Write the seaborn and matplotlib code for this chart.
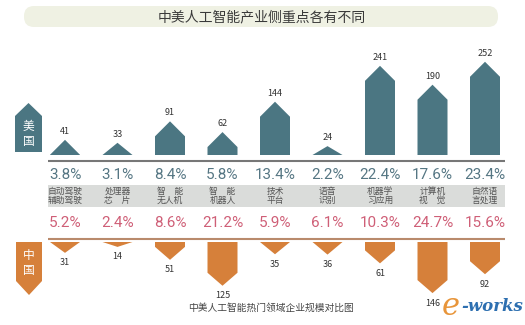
import matplotlib
matplotlib.use("Agg")
import matplotlib.pyplot as plt
import seaborn as sns
import pandas as pd
from matplotlib.patches import Polygon, Rectangle, FancyBboxPatch

# ---------------- data ----------------
categories = ["自动驾驶\n辅助驾驶", "处理器\n芯　片", "智　能\n无人机", "智　能\n机器人",
              "技术\n平台", "语音\n识别", "机器学\n习应用", "计算机\n视　觉", "自然语\n言处理"]
us_counts = [41, 33, 91, 62, 144, 24, 241, 190, 252]
cn_counts = [31, 14, 51, 125, 35, 36, 61, 146, 92]
us_pct = ["3.8%", "3.1%", "8.4%", "5.8%", "13.4%", "2.2%", "22.4%", "17.6%", "23.4%"]
cn_pct = ["5.2%", "2.4%", "8.6%", "21.2%", "5.9%", "6.1%", "10.3%", "24.7%", "15.6%"]
title = "中美人工智能产业侧重点各有不同"
caption = "中美人工智能热门领域企业规模对比图"

TEAL = "#4b7682"
ORANGE = "#d6803a"

sns.set_theme(style="white")
plt.rcParams["font.family"] = ["Noto Sans CJK SC", "DejaVu Sans"]

W, H = 525, 325
fig = plt.figure(figsize=(W / 100, H / 100), dpi=100)
fig.patch.set_facecolor("white")

# overlay axes in pixel units for decoration
ov = fig.add_axes([0, 0, 1, 1], zorder=0)
ov.set_xlim(0, W)
ov.set_ylim(H, 0)
ov.axis("off")

def px_axes(left, top, right, bottom, z=2):
    return fig.add_axes([left / W, 1 - bottom / H, (right - left) / W, (bottom - top) / H], zorder=z)

slot = 52.5
left_edge = 65 - slot / 2
right_edge = left_edge + slot * 9
bar_w = 30 / slot

df = pd.DataFrame({"cat": categories, "us": us_counts, "cn": cn_counts})

def houses(ax, col, color, px_per_unit, roof_px, down=False, label_off=3):
    sns.barplot(data=df, x="cat", y=col, ax=ax, color=color, width=bar_w,
                saturation=1, errorbar=None)
    roof = roof_px / px_per_unit
    patches = list(ax.patches)
    for p, v in zip(patches, df[col]):
        x0, w, h = p.get_x(), p.get_width(), p.get_height()
        xc = x0 + w / 2
        r = min(roof, h)
        pts = [(x0, 0), (x0 + w, 0), (x0 + w, h - r), (xc, h), (x0, h - r)]
        p.remove()
        ax.add_patch(Polygon(pts, closed=True, facecolor=color, edgecolor="none"))
        if down:
            ax.annotate(str(v), (xc, h), xytext=(0, -label_off), textcoords="offset points",
                        ha="center", va="top", fontsize=6.5, color="#333333")
        else:
            ax.annotate(str(v), (xc, h), xytext=(0, label_off), textcoords="offset points",
                        ha="center", va="bottom", fontsize=6.5, color="#333333")
    ax.set_xlim(-0.5, 8.5)
    ax.axis("off")

# US axes
us_scale = 0.37
ax_us = px_axes(left_edge, 50, right_edge, 155)
ax_us.set_ylim(0, 105 / us_scale)
houses(ax_us, "us", TEAL, us_scale, 15)

# China axes
cn_scale = 0.35
ax_cn = px_axes(left_edge, 242, right_edge, 300)
ax_cn.set_ylim(58 / cn_scale, 0)
houses(ax_cn, "cn", ORANGE, cn_scale, 13, down=True, label_off=4)

# title banner
ov.add_patch(FancyBboxPatch((24, 6), 474, 21, boxstyle="round,pad=0,rounding_size=10",
                            facecolor="#eff1e3", edgecolor="none"))
ov.text(262, 17.5, title, ha="center", va="center", fontsize=10, color="#3a3a3a")

# baselines
ov.plot([48, 505], [161, 161], color="#777777", lw=1.5, solid_capstyle="butt")
ov.plot([48, 505], [239, 239], color="#b98a6c", lw=1.5, solid_capstyle="butt")

# category band
ov.add_patch(Rectangle((48, 185), 457, 22, facecolor="#dadcda", edgecolor="none"))

pct_font = ["Roboto", "DejaVu Sans"]
for i in range(len(categories)):
    xc = 65 + slot * i
    ov.text(xc, 175, us_pct[i], ha="center", va="center", fontsize=11,
            color="#557683", family=pct_font)
    ov.text(xc, 196, categories[i], ha="center", va="center", fontsize=6.3,
            color="#555555", linespacing=1.05)
    ov.text(xc, 223, cn_pct[i], ha="center", va="center", fontsize=11,
            color="#cf5f77", family=pct_font)

# side tags
ov.add_patch(Polygon([(15, 152), (15, 116), (28.5, 103), (42, 116), (42, 152)],
                     closed=True, facecolor=TEAL, edgecolor="none"))
ov.text(28.5, 134, "美\n国", ha="center", va="center", fontsize=8.5, color="white",
        linespacing=1.25)
ov.add_patch(Polygon([(16, 242), (42, 242), (42, 281), (29, 295), (16, 281)],
                     closed=True, facecolor=ORANGE, edgecolor="none"))
ov.text(29, 263, "中\n国", ha="center", va="center", fontsize=8.5, color="white",
        linespacing=1.25)

# caption
ov.text(271, 308, caption, ha="center", va="center", fontsize=7, color="#444444")

# watermark logo
ov.text(451, 315, "e", ha="center", va="baseline", fontsize=22, color="#e8953a",
        style="italic", family="DejaVu Serif")
ov.text(461, 311, "-works", ha="left", va="baseline", fontsize=12, color="#2d6fb0",
        style="italic", weight="bold", family="DejaVu Serif")

fig.savefig("out.png", dpi=100, facecolor="white")
